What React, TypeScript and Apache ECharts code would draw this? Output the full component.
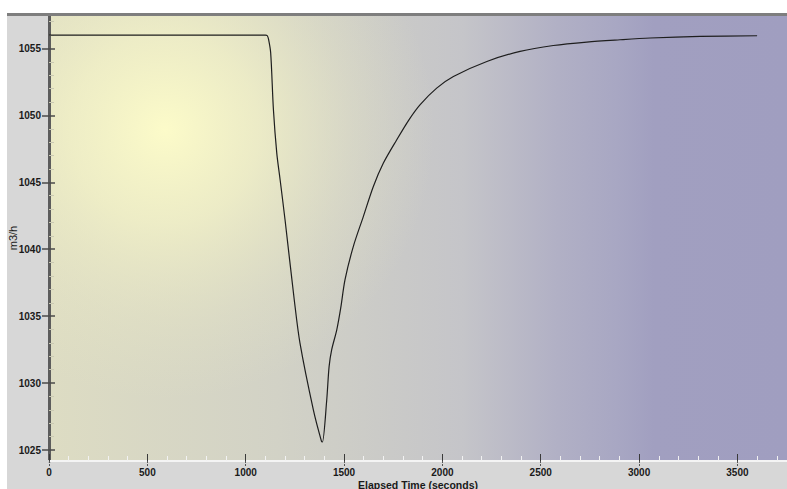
import React, { useEffect, useRef } from "react";
import * as echarts from "echarts";

const times = [0, 1100, 1110, 1116, 1127, 1141, 1158, 1175, 1200, 1247, 1276, 1344, 1385, 1390, 1412, 1424, 1437, 1463, 1483, 1505, 1547, 1598, 1649, 1700, 1768, 1830, 1886, 1971, 2056, 2226, 2395, 2564, 2734, 2903, 3056, 3310, 3600];
const flows = [1056, 1056, 1055.95, 1055.7, 1054.68, 1050.42, 1047.18, 1045.19, 1042.2, 1036.21, 1032.98, 1028.0, 1025.67, 1025.6, 1028.74, 1031.23, 1032.48, 1033.98, 1035.6, 1037.73, 1040.2, 1042.44, 1044.69, 1046.44, 1048.18, 1049.67, 1050.79, 1052.04, 1052.91, 1054.03, 1054.78, 1055.22, 1055.48, 1055.65, 1055.78, 1055.9, 1055.95];

const xMajorTicks = [0, 500, 1000, 1500, 2000, 2500, 3000, 3500];
const xMinorTicks = [100, 200, 300, 400, 600, 700, 800, 900, 1100, 1200, 1300, 1400, 1600, 1700, 1800, 1900, 2100, 2200, 2300, 2400, 2600, 2700, 2800, 2900, 3100, 3200, 3300, 3400, 3600, 3700];
const yMajorTicks = [1025, 1030, 1035, 1040, 1045, 1050, 1055];
const yMinorTicks = [1026, 1027, 1028, 1029, 1031, 1032, 1033, 1034, 1036, 1037, 1038, 1039, 1041, 1042, 1043, 1044, 1046, 1047, 1048, 1049, 1051, 1052, 1053, 1054, 1056, 1057];

const X_MIN = 0;
const X_MAX = 3752;
const Y_MIN = 1024.18;
const Y_MAX = 1057.5;

const FONT = "'Liberation Sans', Arial, sans-serif";

export default function App() {
  const ref = useRef<HTMLDivElement>(null);
  useEffect(() => {
    document.body.style.margin = "0";
    const chart = echarts.init(ref.current!, null, { renderer: "svg" });
    const W = 787, H = 489;
    const gl = 49, gt = 15, gb = 28;
    const labelStyle = { fontFamily: FONT, fontWeight: "bold" as const, fontSize: 10, color: "#1a1a1a" };
    const hidden = { show: false };
    const plain = (v: number) => String(v);
    const baseX = { type: "value", min: X_MIN, max: X_MAX, position: "bottom", offset: 0, splitLine: hidden };
    const baseY = { type: "value", min: Y_MIN, max: Y_MAX, position: "left", offset: 0, splitLine: hidden };
    chart.setOption({
      animation: false,
      backgroundColor: "#ffffff",
      graphic: [
        { type: "rect", z: -20, silent: true, shape: { x: 7, y: 13, width: W - 7, height: H - 13 }, style: { fill: "#d7d7d7" } },
        {
          type: "rect", z: -19, silent: true,
          shape: { x: gl, y: gt, width: W - gl, height: H - gb - gt },
          style: {
            fill: new echarts.graphic.LinearGradient(0, 0, 1, 0, [
              { offset: 0, color: "#dddcc3" },
              { offset: 0.31, color: "#d2d2c6" },
              { offset: 0.56, color: "#c5c5c9" },
              { offset: 0.69, color: "#b1b0c5" },
              { offset: 0.77, color: "#a8a7c3" },
              { offset: 0.82, color: "#a19fc0" },
              { offset: 1, color: "#a09ec0" },
            ]),
          },
        },
        {
          type: "rect", z: -18, silent: true,
          shape: { x: gl, y: gt, width: W - gl, height: H - gb - gt },
          style: {
            fill: {
              type: "radial", x: 165, y: 130, r: 270, global: true,
              colorStops: [
                { offset: 0, color: "rgba(252,251,201,1)" },
                { offset: 0.35, color: "rgba(246,245,199,0.7)" },
                { offset: 0.7, color: "rgba(236,235,197,0.3)" },
                { offset: 1, color: "rgba(230,230,195,0)" },
              ],
            },
          },
        },
        { type: "line", z: 10, silent: true, shape: { x1: 7, y1: 14.5, x2: W, y2: 14.5 }, style: { stroke: "#7e7e7e", lineWidth: 3 } },
      ],
      grid: { left: gl, right: 0, top: gt, bottom: gb, containLabel: false, outerBoundsMode: "none" },
      xAxis: [
        {
          ...baseX,
          name: "Elapsed Time (seconds)",
          nameLocation: "middle",
          nameGap: 18,
          nameMoveOverlap: false,
          nameTextStyle: { ...labelStyle, fontSize: 10.5 },
          axisLine: { show: true, lineStyle: { color: "#f4f4f4", width: 2 } },
          axisTick: { show: true, inside: true, length: 7, customValues: xMajorTicks, lineStyle: { color: "#3a3a3a", width: 1 } },
          axisLabel: { ...labelStyle, margin: 6, customValues: xMajorTicks, formatter: plain },
        },
        {
          ...baseX,
          axisLine: hidden,
          axisLabel: hidden,
          axisTick: { show: true, inside: false, length: 5, customValues: xMajorTicks, lineStyle: { color: "#555555", width: 1, type: [2, 1] } },
        },
        {
          ...baseX,
          axisLine: hidden,
          axisLabel: hidden,
          axisTick: { show: true, inside: true, length: 5, customValues: xMinorTicks, lineStyle: { color: "#f2f2f2", width: 1 } },
        },
      ],
      yAxis: [
        {
          ...baseY,
          name: "m3/h",
          nameLocation: "middle",
          nameGap: 31,
          nameMoveOverlap: false,
          nameTextStyle: { fontFamily: FONT, fontSize: 11, color: "#1a1a1a" },
          axisLine: { show: true, lineStyle: { color: "#5c5c5c", width: 3 } },
          axisTick: { show: true, inside: false, length: 7, customValues: yMajorTicks, lineStyle: { color: "#4a4a4a", width: 1.5 } },
          axisLabel: { ...labelStyle, margin: 8, customValues: yMajorTicks, formatter: plain },
        },
        {
          ...baseY,
          axisLine: hidden,
          axisLabel: hidden,
          axisTick: { show: true, inside: true, length: 6, customValues: yMajorTicks, lineStyle: { color: "#4a4a4a", width: 1.5 } },
        },
        {
          ...baseY,
          axisLine: hidden,
          axisLabel: hidden,
          axisTick: { show: true, inside: true, length: 5, customValues: yMinorTicks, lineStyle: { color: "#c9c8b2", width: 1 } },
        },
      ],
      series: [
        {
          type: "line",
          xAxisIndex: 0,
          yAxisIndex: 0,
          data: times.map((t, i) => [t, flows[i]]),
          smooth: 0.3,
          symbol: "none",
          lineStyle: { color: "#1e1e1e", width: 1.2 },
        },
      ],
    });
    return () => chart.dispose();
  }, []);
  return <div ref={ref} style={{ width: 787, height: 489 }} />;
}
